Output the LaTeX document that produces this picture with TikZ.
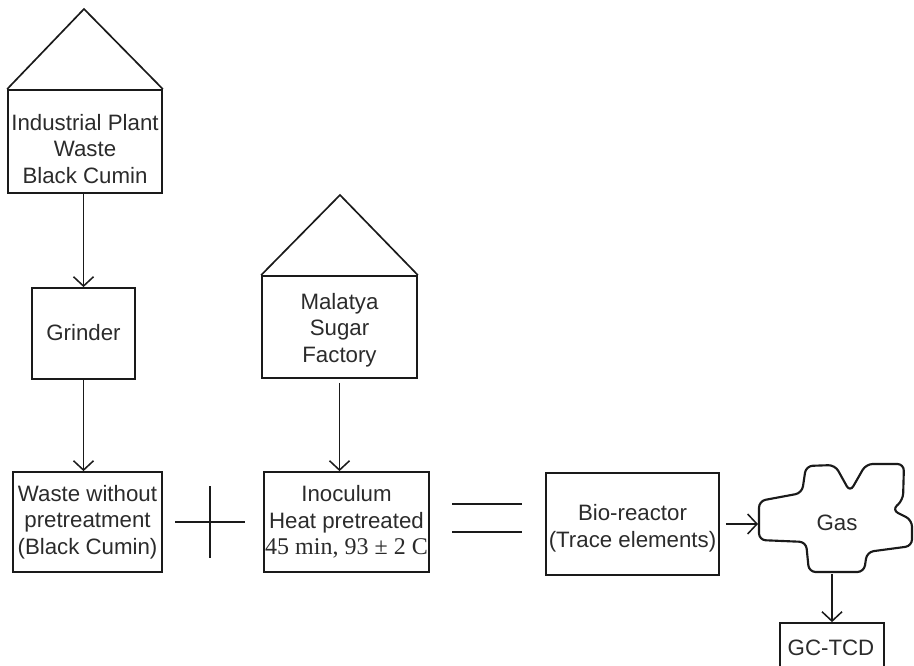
\documentclass[tikz,border=0pt]{standalone}
\usepackage{fontspec}
\setmainfont{Liberation Sans}
\newfontfamily\serifa{Liberation Serif}
\usetikzlibrary{arrows.meta,fit,calc}
\definecolor{ink}{HTML}{1A1A1A}
\definecolor{txtc}{HTML}{2B2B2B}
\begin{document}
\begin{tikzpicture}[x=0.75pt,y=-0.75pt,
  box/.style={draw=ink,line width=1.3pt,inner sep=0pt},
  txt/.style={text=txtc,align=center,font=\fontsize{16.7}{19.9}\selectfont,inner sep=0pt},
  arr/.style={draw=ink,line width=1.15pt,-{Straight Barb[length=7pt,width=15pt,line width=1.15pt]}},
  ln/.style={draw=ink,line width=1.25pt}]
\useasboundingbox (0,0) rectangle (914,666);
\clip (0,0) rectangle (914,666);

% Industrial plant house
\node[box,fit={(8,90) (162,193)}] (ind) {};
\coordinate (indapex) at (84,9);
\draw[ln,line join=miter] (ind.north west) -- (indapex) -- (ind.north east);
\node[txt] (indt) at (85,149) {Industrial Plant\\Waste\\Black Cumin};

% Grinder
\node[box,fit={(32,288) (135,379)}] (grind) {};
\node[txt] (grindt) at (83.5,333) {Grinder};

% Waste without pretreatment
\node[box,fit={(13,472) (162,572)}] (waste) {};
\node[txt] (wastet) at (87.5,522) {Waste without\\pretreatment\\(Black Cumin)};

% Malatya house
\node[box,fit={(262,276) (417,378)}] (mal) {};
\coordinate (malapex) at (340,195);
\draw[ln,line join=miter] (mal.north west) -- (malapex) -- (mal.north east);
\node[txt] (malt) at (339.5,330) {Malatya\\Sugar\\Factory};

% Inoculum
\node[box,fit={(264,472) (429,572)}] (ino) {};
\node[txt] (inot) at (346.5,522) {Inoculum\\Heat pretreated\\{\serifa\fontsize{18}{19.9}\selectfont 45 min, 93 ± 2 C}};

% Bio-reactor
\node[box,fit={(546,473) (719,575)}] (bio) {};
\node[txt] (biot) at (632.5,528) {Bio-reactor\\(Trace elements)};

% GC-TCD
\node[box,fit={(780,623) (884,700)}] (gc) {};
\node[txt] (gct) at (831,648) {GC-TCD};

% Plus sign
\coordinate (plusL) at (175,522);
\coordinate (plusR) at (245,522);
\coordinate (plusT) at (210,486);
\coordinate (plusB) at (210,558);
\draw[ln] (plusL) -- (plusR);
\draw[ln] (plusT) -- (plusB);

% Equals sign
\coordinate (eqA1) at (452,504);
\coordinate (eqA2) at (522,504);
\coordinate (eqB1) at (452,532);
\coordinate (eqB2) at (522,532);
\draw[ln] (eqA1) -- (eqA2);
\draw[ln] (eqB1) -- (eqB2);

% Cloud
\draw[draw=ink,line width=1.6pt,rounded corners=5pt,line join=round]
  (759,540) -- (759,501) -- (802,493) -- (806,466) -- (835,465) -- (850,492)
  -- (866,464) -- (904,464) -- (903,500) -- (892,510) -- (912,520)
  -- (912,546) -- (867,552) -- (864,572) -- (809,572) -- (806,542) -- cycle;
\node[txt] (gast) at (837,523) {Gas};
\coordinate (cloudW) at (758,524);
\coordinate (cloudS) at (832,574);

% Arrows
\draw[arr] (grind.north |- ind.south) -- (grind.north);
\draw[arr] (grind.south) -- (grind.south |- waste.north);
\draw[arr] ($(mal.south)+(0,4)$) -- (mal.south |- ino.north);
\draw[arr] ($(bio.east)+(6,0)$) -- (cloudW);
\draw[arr] (cloudS) -- (cloudS |- gc.north);
\end{tikzpicture}
\end{document}
